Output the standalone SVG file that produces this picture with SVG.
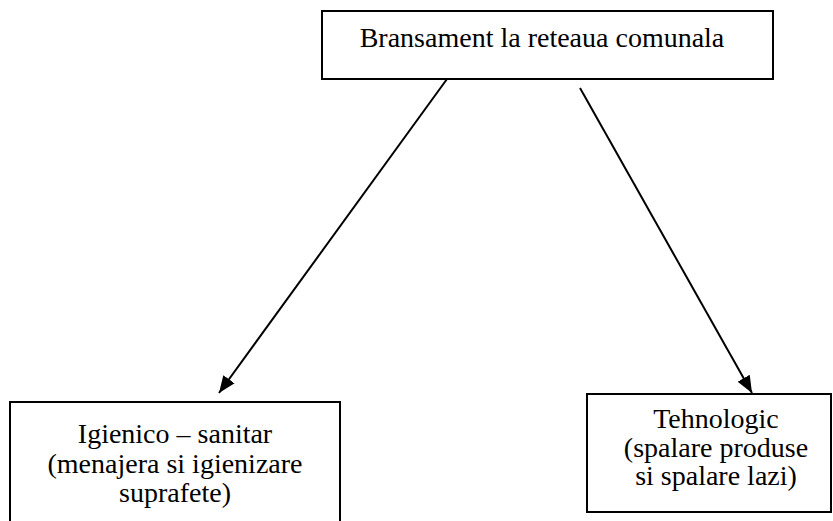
<svg xmlns="http://www.w3.org/2000/svg" width="833" height="521" viewBox="0 0 833 521">
<style>
.box{fill:#fff;stroke:#000;stroke-width:2}
.t{font-family:"Liberation Serif","Times New Roman",serif;font-size:28px;fill:#000;text-anchor:middle}
.c{stroke:#000;stroke-width:2;fill:none;marker-end:url(#ah)}
</style>
<defs>
<marker id="ah" markerUnits="userSpaceOnUse" markerWidth="18" markerHeight="14" refX="17" refY="7" orient="auto">
<path d="M0,0 L17,7 L0,14 Z" fill="#000"/>
</marker>
</defs>
<rect width="833" height="521" fill="#fff"/>
<g id="top">
<rect class="box" x="322" y="11" width="451" height="68"/>
<text class="t" x="542" y="47">Bransament la reteaua comunala</text>
</g>
<g id="left">
<rect class="box" x="10" y="402" width="330" height="140"/>
<text class="t" x="175" y="443">Igienico – sanitar</text>
<text class="t" x="175" y="473">(menajera si igienizare</text>
<text class="t" x="175" y="502">suprafete)</text>
</g>
<g id="right">
<rect class="box" x="587" y="394" width="244" height="118"/>
<text class="t" x="716" y="428">Tehnologic</text>
<text class="t" x="716" y="457">(spalare produse</text>
<text class="t" x="716" y="485">si spalare lazi)</text>
</g>
<g id="connectors">
<line class="c" x1="447" y1="79" x2="219" y2="393"/>
<line class="c" x1="580" y1="88" x2="752" y2="393"/>
</g>
</svg>
